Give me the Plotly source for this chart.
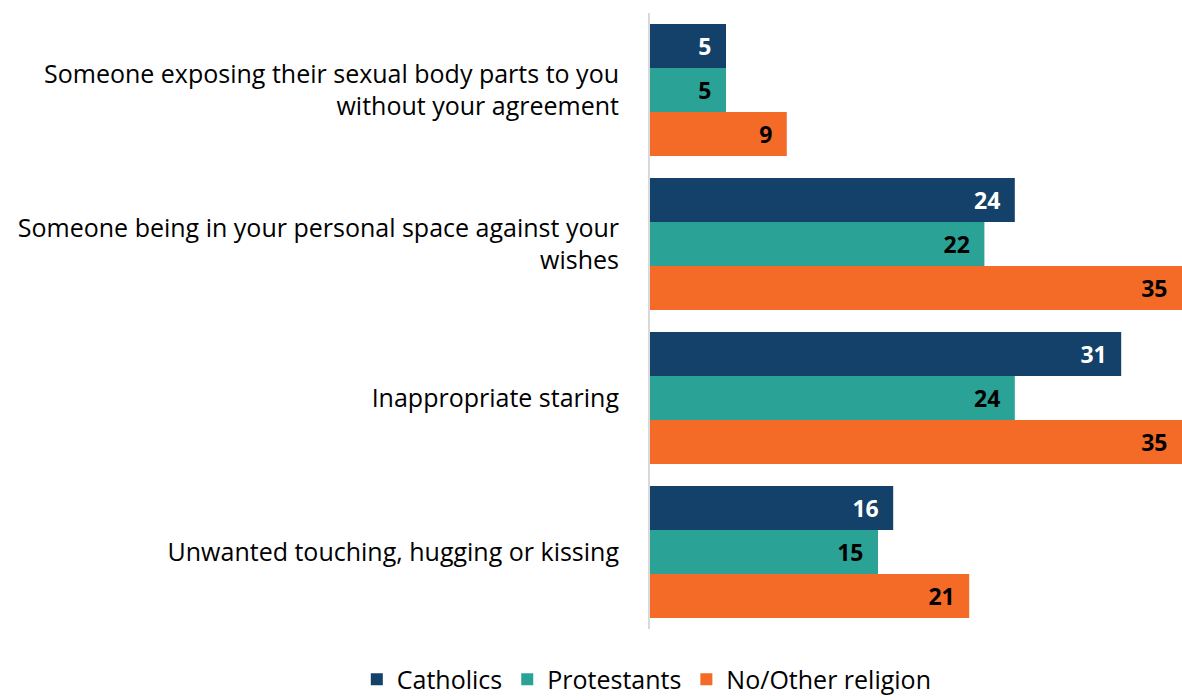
import plotly.graph_objects as go

categories = [
    "Someone exposing their sexual body parts to you<br>without your agreement",
    "Someone being in your personal space against your<br>wishes",
    "Inappropriate staring",
    "Unwanted touching, hugging or kissing",
]
catholics = [5, 24, 31, 16]
protestants = [5, 22, 24, 15]
no_other = [9, 35, 35, 21]

series = [
    ("Catholics", catholics, "#144169", "white"),
    ("Protestants", protestants, "#2aa396", "black"),
    ("No/Other religion", no_other, "#f46b27", "black"),
]

fig = go.Figure()
for name, vals, color, tcolor in series:
    fig.add_trace(go.Bar(
        y=categories, x=vals, name=name, orientation="h",
        marker=dict(color=color, line=dict(width=0)),
        texttemplate="%{x}\u2002", textposition="inside", insidetextanchor="end",
        textfont=dict(color=tcolor, size=23, family="Open Sans", weight="bold"),
        cliponaxis=False,
    ))

fig.update_layout(
    width=1182, height=700,
    barmode="group", bargap=0.143, bargroupgap=0,
    margin=dict(l=650, r=0, t=13, b=71, autoexpand=False),
    plot_bgcolor="white", paper_bgcolor="white",
    font=dict(family="Open Sans", size=25, color="black"),
    uniformtext=dict(mode=False),
    legend=dict(orientation="h", x=-0.006, xanchor="center",
                yref="container", y=0.062, yanchor="top",
                font=dict(size=25), traceorder="normal", itemwidth=30),
    xaxis=dict(range=[0, 35], visible=False),
    yaxis=dict(autorange="reversed", showline=True, linecolor="#d9d9d9", linewidth=2,
               ticks="", ticklabelstandoff=24, showgrid=False),
)
fig.write_html("out.html", config={"displayModeBar": False},
               post_script="document.body.style.margin='0';document.body.style.overflow='hidden';")
